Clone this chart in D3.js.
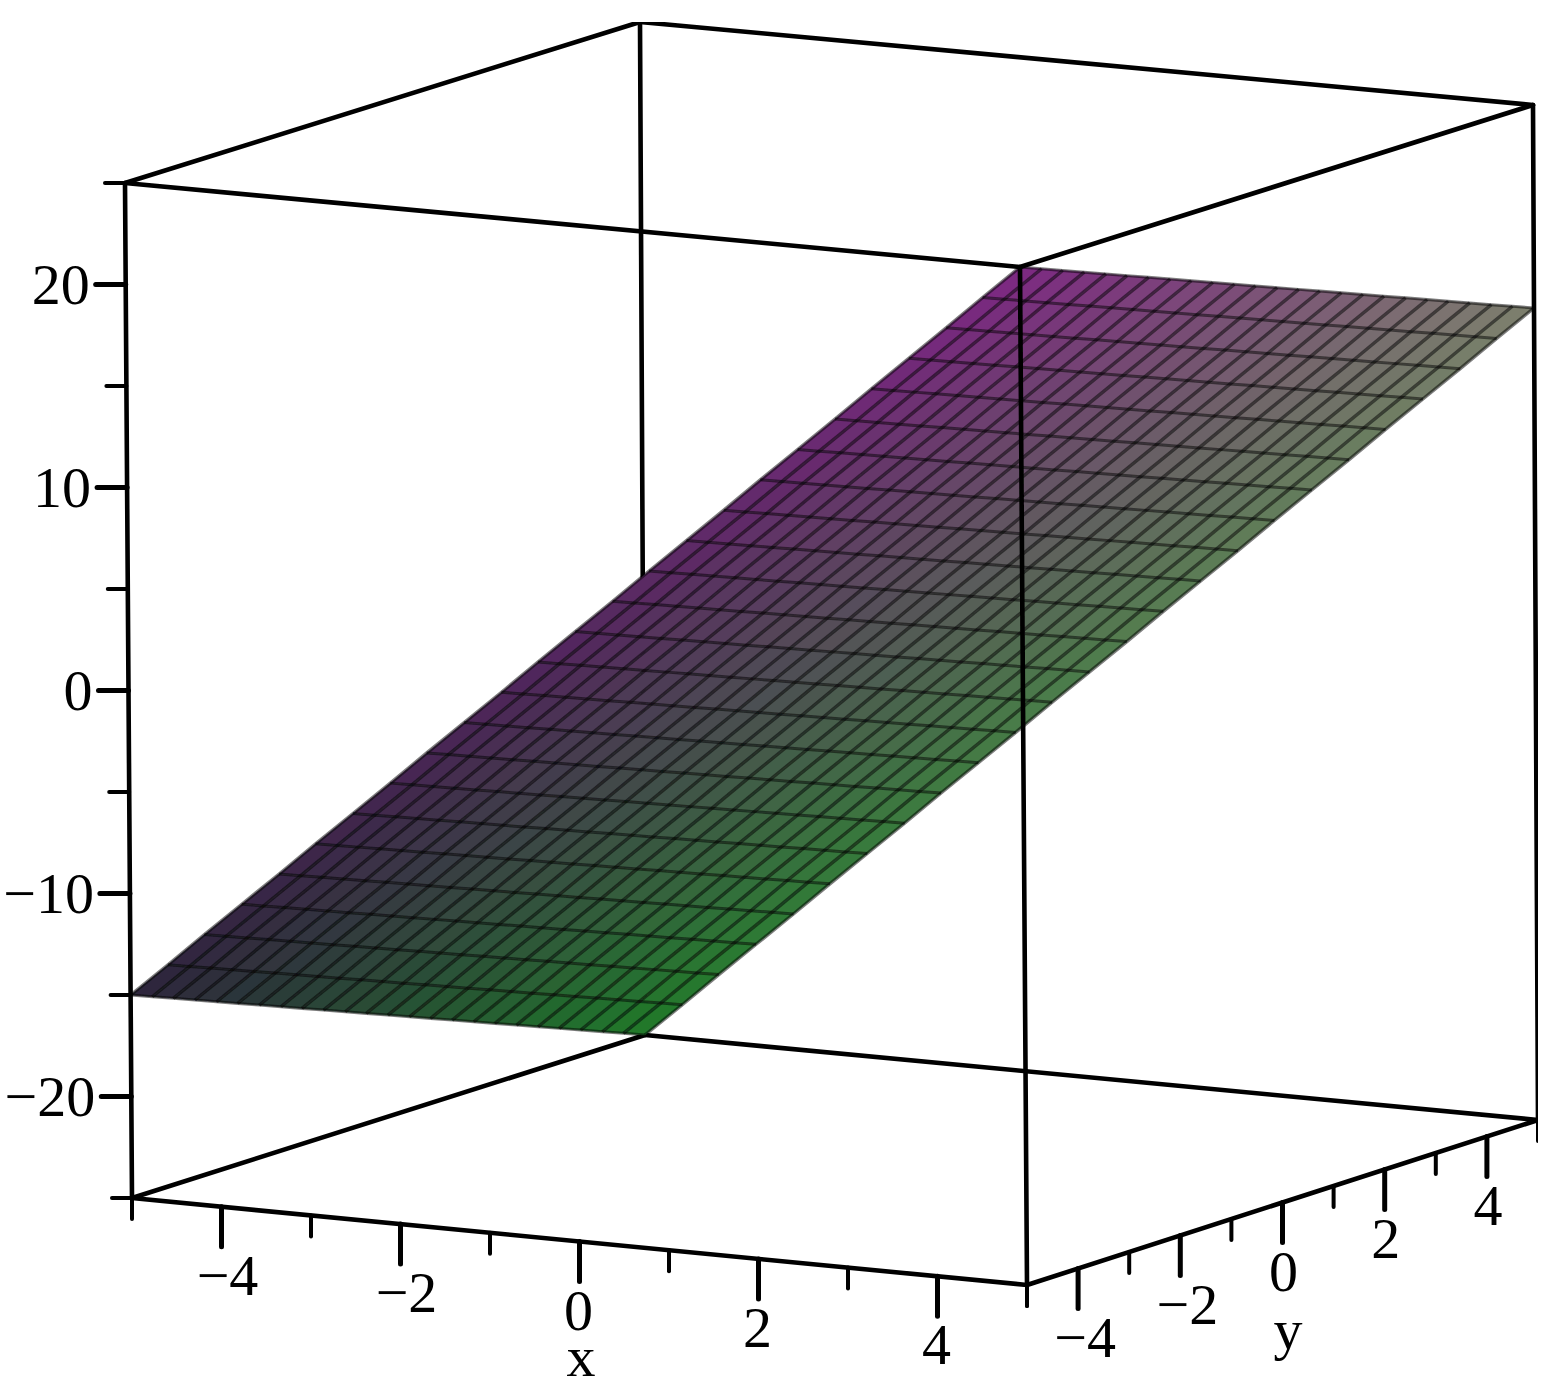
<!DOCTYPE html>
<html>
<head>
<meta charset="utf-8">
<title>plane</title>
<script src="https://d3js.org/d3.v7.min.js"></script>
<style>
	html, body { margin: 0; background: #fff; }
	svg { display: block; }
	text { font-family: "Liberation Serif", serif; fill: #000; font-size: 58px; text-anchor: middle; }
</style>
</head>
<body>
<svg width="1547" height="1389"></svg>
<script>
// DATA
var xMesh = [-5, -4.58, -4.17, -3.75, -3.33, -2.92, -2.5, -2.08, -1.67, -1.25, -0.83, -0.42, 0,
	0.42, 0.83, 1.25, 1.67, 2.08, 2.5, 2.92, 3.33, 3.75, 4.17, 4.58, 5];
var yMesh = [-5, -4.58, -4.17, -3.75, -3.33, -2.92, -2.5, -2.08, -1.67, -1.25, -0.83, -0.42, 0,
	0.42, 0.83, 1.25, 1.67, 2.08, 2.5, 2.92, 3.33, 3.75, 4.17, 4.58, 5];
// height of the surface along its two y edges, one value per xMesh entry
var zAtFrontEdge = [-15, -13.33, -11.67, -10, -8.33, -6.67, -5, -3.33, -1.67, 0, 1.67, 3.33, 5,
	6.67, 8.33, 10, 11.67, 13.33, 15, 16.67, 18.33, 20, 21.67, 23.33, 25];
var zAtBackEdge = [-25, -23.33, -21.67, -20, -18.33, -16.67, -15, -13.33, -11.67, -10, -8.33, -6.67, -5,
	-3.33, -1.67, 0, 1.67, 3.33, 5, 6.67, 8.33, 10, 11.67, 13.33, 15];

var xMajor = [-4, -2, 0, 2, 4], xMinor = [-5, -3, -1, 1, 3, 5];
var yMajor = [-4, -2, 0, 2, 4], yMinor = [-5, -3, -1, 1, 3, 5];
var zMajor = [-20, -10, 0, 10, 20], zMinor = [-25, -15, -5, 5, 15, 25];

// colours of the surface at its corners
var colorLowFront = "#2d263c", colorLowBack = "#1f7a2a",
	colorHighFront = "#7d2782", colorHighBack = "#7d806e";

// PROJECTION
/*
	The box is drawn from its 8 screen corners; a point of the box is placed
	by mixing the corners with the 3 scales (each goes from 0 to 1).
*/
var sx = d3.scaleLinear().domain([-5, 5]).range([0, 1]),
	sy = d3.scaleLinear().domain([-5, 5]).range([0, 1]),
	sz = d3.scaleLinear().domain([-25, 25]).range([0, 1]);

var corners = {
	b00: [132, 1198], b10: [1027, 1285], b11: [1538, 1120], b01: [645, 1035],
	t00: [125, 183], t10: [1020, 267], t11: [1533, 105], t01: [640, 22]
};

function mix(a, b, t) { return a + (b - a) * t; }

function project(x, y, z) {
	var u = sx(x), v = sy(y), w = sz(z), p = [];
	for (var k = 0; k < 2; k++) {
		var bottom = mix(mix(corners.b00[k], corners.b10[k], u), mix(corners.b01[k], corners.b11[k], u), v),
			top = mix(mix(corners.t00[k], corners.t10[k], u), mix(corners.t01[k], corners.t11[k], u), v);
		p.push(mix(bottom, top, w));
	}
	return p;
}

var svg = d3.select("svg"),
	line = d3.line();

// slight softening, the reference is a blurred scan
var blur = svg.append("defs").append("filter").attr("id", "soft")
	.attr("x", 0).attr("y", 0).attr("width", 1).attr("height", 1)
	.attr("filterUnits", "objectBoundingBox");
blur.append("feGaussianBlur").attr("stdDeviation", 0.7);

var plot = svg.append("g");

function edge(a, b, width) {
	plot.append("path").attr("d", line([a, b]))
		.attr("fill", "none").attr("stroke", "#000")
		.attr("stroke-width", width || 4.6).attr("stroke-linecap", "round");
}

// BOX EDGES BEHIND THE SURFACE
edge(corners.b01, corners.b00);
edge(corners.b01, corners.b11);
edge(corners.b01, corners.t01);

// SURFACE
function surfacePoint(i, j) {
	var zAt = d3.scaleLinear().domain([-5, 5]).range([zAtFrontEdge[i], zAtBackEdge[i]]);
	return project(xMesh[i], yMesh[j], zAt(yMesh[j]));
}

var front = d3.scaleLinear().domain([-5, 5]).range([colorLowFront, colorHighFront]).interpolate(d3.interpolateRgb),
	back = d3.scaleLinear().domain([-5, 5]).range([colorLowBack, colorHighBack]).interpolate(d3.interpolateRgb);

function cellColor(x, y) {
	return d3.interpolateRgb(front(x), back(x))(sy(y));
}

var cells = [];
d3.range(xMesh.length - 1).forEach(function(i) {
	d3.range(yMesh.length - 1).forEach(function(j) {
		cells.push({ i: i, j: j });
	});
});

var surface = plot.append("g");

surface.selectAll("path.cell").data(cells).join("path")
	.attr("class", "cell")
	.attr("d", function(d) {
		return line([surfacePoint(d.i, d.j), surfacePoint(d.i + 1, d.j),
			surfacePoint(d.i + 1, d.j + 1), surfacePoint(d.i, d.j + 1)]) + "Z";
	})
	.attr("fill", function(d) {
		return cellColor((xMesh[d.i] + xMesh[d.i + 1]) / 2, (yMesh[d.j] + yMesh[d.j + 1]) / 2);
	})
	.attr("stroke", function(d) {
		return cellColor((xMesh[d.i] + xMesh[d.i + 1]) / 2, (yMesh[d.j] + yMesh[d.j + 1]) / 2);
	})
	.attr("stroke-width", 0.6);

// mesh lines, one family for each direction
surface.selectAll("path.xline").data(xMesh).join("path")
	.attr("class", "xline")
	.attr("d", function(d, i) { return line(yMesh.map(function(y, j) { return surfacePoint(i, j); })); })
	.attr("fill", "none").attr("stroke", "#000").attr("stroke-opacity", 0.5).attr("stroke-width", 3);

surface.selectAll("path.yline").data(yMesh).join("path")
	.attr("class", "yline")
	.attr("d", function(d, j) { return line(xMesh.map(function(x, i) { return surfacePoint(i, j); })); })
	.attr("fill", "none").attr("stroke", "#000").attr("stroke-opacity", 0.5).attr("stroke-width", 3.4);

// BOX EDGES IN FRONT OF THE SURFACE
edge(corners.t00, corners.t10);
edge(corners.t10, corners.t11);
edge(corners.t11, corners.t01);
edge(corners.t01, corners.t00);
edge(corners.t10, corners.b10);
edge(corners.t11, corners.b11);
edge(corners.t00, corners.b00);
edge(corners.b00, corners.b10);
edge(corners.b10, corners.b11);

// TICKS AND LABELS
var majorLength = 40, minorLength = 21;

function tickX(v, length, width) {
	var p = project(v, -5, -25);
	edge(p, [p[0], p[1] + length], width);
}
function tickY(v, length, width) {
	var p = project(5, v, -25);
	edge(p, [p[0], p[1] + length], width);
}
function tickZ(v, length, width) {
	var p = project(-5, -5, v);
	edge(p, [p[0] - length, p[1]], width);
}

xMajor.forEach(function(v) { tickX(v, majorLength, 5); });
xMinor.forEach(function(v) { tickX(v, minorLength, 4); });
yMajor.forEach(function(v) { tickY(v, majorLength, 5); });
yMinor.forEach(function(v) { tickY(v, minorLength, 4); });
zMajor.forEach(function(v) { tickZ(v, 30, 5); });
zMinor.forEach(function(v) { tickZ(v, 20, 4); });

function label(v) { return v < 0 ? "\u2212" + Math.abs(v) : String(v); }

plot.selectAll("text.xtick").data(xMajor).join("text")
	.attr("class", "xtick")
	.attr("x", function(d) { return project(d, -5, -25)[0] + (d < 0 ? 6 : -1); })
	.attr("y", function(d) { return project(d, -5, -25)[1] + 88; })
	.text(label);

plot.selectAll("text.ytick").data(yMajor).join("text")
	.attr("class", "ytick")
	.attr("x", function(d) { return project(5, d, -25)[0] + (d < 0 ? 7 : 1); })
	.attr("y", function(d) { return project(5, d, -25)[1] + 88; })
	.text(label);

plot.selectAll("text.ztick").data(zMajor).join("text")
	.attr("class", "ztick")
	.attr("x", function(d) { return project(-5, -5, d)[0] - 36; })
	.attr("y", function(d) { return project(-5, -5, d)[1] + 19; })
	.style("text-anchor", "end")
	.text(label);

plot.append("text").attr("x", 581).attr("y", 1376).text("x");
plot.append("text").attr("x", 1288).attr("y", 1349).text("y");

plot.attr("filter", "url(#soft)");
</script>
</body>
</html>
